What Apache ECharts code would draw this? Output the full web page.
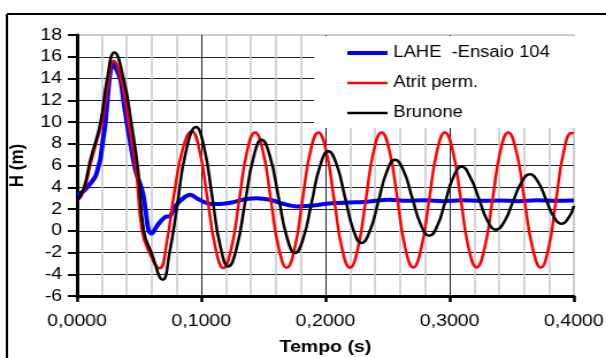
<!DOCTYPE html>
<html>
<head>
<meta charset="utf-8">
<script src="https://cdn.jsdelivr.net/npm/echarts@6/dist/echarts.min.js"></script>
<style>
  html, body { margin: 0; padding: 0; background: #fff; overflow: hidden; }
  /* drawn at a narrower width, then widened to fill the page */
  #chart { width: 545px; height: 358px; transform: scaleX(1.15); transform-origin: 0 0; }
</style>
</head>
<body>
<div id="chart"></div>
<script>
// Tempo (s) / H (m) pairs for each series
const lahe = [
  [0, 3.3], [0.0035, 3.5], [0.0067, 3.8], [0.0105, 4.3], [0.0148, 5.0], [0.0172, 5.9],
  [0.0188, 6.6], [0.0208, 8.3], [0.0228, 9.9], [0.026, 13.9], [0.0287, 15.4], [0.031, 15.0],
  [0.0349, 13.9], [0.0375, 11.9], [0.0402, 9.9], [0.047, 5.6], [0.0529, 3.5], [0.0555, 1.6],
  [0.0577, 0.0], [0.0601, -0.25], [0.0635, 0.3], [0.0668, 0.8], [0.0708, 1.26], [0.0749, 1.35],
  [0.0762, 1.6], [0.0802, 2.4], [0.0856, 3.0], [0.091, 3.3], [0.0977, 2.9], [0.1044, 2.55],
  [0.111, 2.45], [0.1178, 2.48], [0.1245, 2.6], [0.1312, 2.79], [0.1378, 2.95], [0.1446, 3.0],
  [0.1553, 2.85], [0.166, 2.48], [0.1768, 2.24], [0.1875, 2.3], [0.201, 2.48], [0.209, 2.55],
  [0.22, 2.6], [0.2304, 2.64], [0.2519, 2.85], [0.265, 2.75], [0.28, 2.8], [0.295, 2.72],
  [0.31, 2.8], [0.325, 2.75], [0.34, 2.78], [0.355, 2.72], [0.37, 2.8], [0.385, 2.76], [0.4, 2.78]
];

const atrit = [
  [0, 2.7], [0.0055, 3.7], [0.011, 6.2], [0.0155, 8.1], [0.02, 9.9], [0.025, 13.6], [0.0295, 15.6],
  [0.0357, 13.9], [0.0416, 9.9], [0.0475, 5.6], [0.0523, 0.0], [0.0582, -2.0], [0.0663, -3.45],
  [0.0723, -1.0], [0.0783, 3.5], [0.0853, 7.6], [0.0923, 9.13],
  [0.0987, 7.3], [0.1051, 2.85], [0.1115, -1.6], [0.1178, -3.43],
  [0.1242, -1.6], [0.1306, 2.85], [0.1369, 7.3], [0.1433, 9.04],
  [0.1497, 7.3], [0.156, 2.85], [0.1624, -1.6], [0.1688, -3.4],
  [0.1752, -1.6], [0.1815, 2.85], [0.1879, 7.3], [0.1942, 9.04],
  [0.2006, 7.3], [0.207, 2.85], [0.2133, -1.6], [0.2197, -3.4],
  [0.2261, -1.6], [0.2325, 2.85], [0.2388, 7.3], [0.2452, 9.04],
  [0.2516, 7.3], [0.258, 2.85], [0.2643, -1.6], [0.2707, -3.37],
  [0.2771, -1.6], [0.2835, 2.85], [0.2898, 7.3], [0.2962, 9.04],
  [0.3026, 7.3], [0.309, 2.85], [0.3153, -1.6], [0.3217, -3.37],
  [0.3281, -1.6], [0.3345, 2.85], [0.3408, 7.3], [0.3471, 9.04],
  [0.3537, 7.3], [0.3602, 2.85], [0.3668, -1.6], [0.3734, -3.37],
  [0.3796, -1.6], [0.3857, 2.85], [0.3919, 7.3], [0.398, 9.0], [0.4, 8.95]
];

const brunone = [
  [0, 2.7], [0.0054, 3.9], [0.0107, 6.5], [0.0188, 9.9], [0.0241, 13.9], [0.03, 16.4],
  [0.0376, 13.9], [0.0437, 9.9], [0.0491, 5.6], [0.0537, 0.0], [0.0598, -2.0], [0.069, -4.5],
  [0.0745, -2.0], [0.0805, 2.2], [0.0875, 7.2], [0.0958, 9.53],
  [0.1023, 7.65], [0.1088, 3.13], [0.1153, -1.4], [0.1218, -3.28],
  [0.1285, -1.57], [0.1352, 2.55], [0.1419, 6.67], [0.1486, 8.37],
  [0.1553, 6.84], [0.1621, 3.16], [0.1688, -0.52], [0.1755, -2.05],
  [0.1822, -0.68], [0.1889, 2.63], [0.1956, 5.94], [0.2023, 7.3],
  [0.209, 6.07], [0.2157, 3.09], [0.2224, 0.11], [0.2291, -1.13],
  [0.2358, 0.0], [0.2426, 2.7], [0.2493, 5.41], [0.256, 6.53],
  [0.2629, 5.51], [0.2698, 3.04], [0.2767, 0.57], [0.2836, -0.46],
  [0.2901, 0.47], [0.2966, 2.72], [0.3031, 4.97], [0.3096, 5.9],
  [0.3165, 4.95], [0.3234, 3.0], [0.3303, 0.95], [0.3372, 0.09],
  [0.3441, 0.85], [0.3509, 2.65], [0.3578, 4.45], [0.3646, 5.2],
  [0.371, 4.53], [0.3774, 2.92], [0.3837, 1.31], [0.3901, 0.64],
  [0.3966, 1.35], [0.4, 2.3]
];

const seriesNames = ['LAHE  -Ensaio 104', 'Atrit perm.', 'Brunone'];
const seriesColors = ['#0000ff', '#ff0000', '#000000'];
const seriesWidths = [4, 2.5, 2.5];
const xTickLabels = ['0,0000', '0,1000', '0,2000', '0,3000', '0,4000'];
const xName = 'Tempo (s)';
const yName = 'H (m)';

const font = 'Liberation Sans, Arial, sans-serif';
const chart = echarts.init(document.getElementById('chart'), null, { renderer: 'canvas' });

chart.setOption({
  animation: false,
  backgroundColor: '#fff',
  textStyle: { fontFamily: font, color: '#000' },
  graphic: [
    // outer frame: left edge and top edge
    {
      type: 'line', silent: true, z: 0,
      shape: { x1: 6, y1: 14, x2: 6, y2: 400 },
      style: { stroke: '#000', lineWidth: 2 }
    },
    {
      type: 'line', silent: true, z: 0,
      shape: { x1: 6, y1: 14, x2: 540, y2: 14 },
      style: { stroke: '#000', lineWidth: 2 }
    }
  ],
  grid: {
    left: 67, right: 46, top: 35, bottom: 62,
    outerBoundsMode: 'none',
    containLabel: false,
    show: true, borderColor: '#9a9a9a', borderWidth: 1
  },
  legend: {
    orient: 'vertical',
    left: 273, top: 36,
    padding: [9, 22, 7, 27],
    backgroundColor: '#fff',
    itemWidth: 35, itemHeight: 14, itemGap: 14,
    itemStyle: { opacity: 0 },
    textStyle: { fontFamily: font, fontSize: 16, color: '#000' },
    data: seriesNames.map((n, i) => ({
      name: n,
      lineStyle: { color: seriesColors[i], width: seriesWidths[i] }
    }))
  },
  xAxis: {
    type: 'value',
    min: 0, max: 0.4, interval: 0.1,
    name: xName, nameLocation: 'middle', nameGap: 43,
    nameTextStyle: { fontFamily: font, fontSize: 17, fontWeight: 'bold', color: '#000' },
    axisLine: { show: true, onZero: false, lineStyle: { color: '#000', width: 3 } },
    axisTick: { show: true, inside: false, length: 6, lineStyle: { color: '#000', width: 2.5 } },
    axisLabel: {
      margin: 17, fontSize: 17, color: '#000', fontFamily: font,
      formatter: v => xTickLabels[Math.round(v / 0.1)]
    },
    splitLine: { show: true, showMinLine: false, showMaxLine: false, lineStyle: { color: '#222', width: 1 } },
    minorTick: { show: false, splitNumber: 5 },
    minorSplitLine: { show: true, lineStyle: { color: '#c8c8c8', width: 1.5 } }
  },
  yAxis: {
    type: 'value',
    min: -6, max: 18, interval: 2,
    name: yName, nameLocation: 'middle', nameGap: 32, nameRotate: 90,
    nameTextStyle: { fontFamily: font, fontSize: 17, fontWeight: 'bold', color: '#000' },
    axisLine: { show: true, onZero: false, lineStyle: { color: '#000', width: 3 } },
    axisTick: { show: true, inside: false, length: 8, lineStyle: { color: '#000', width: 2 } },
    axisLabel: { margin: 13, fontSize: 17, color: '#000', fontFamily: font },
    splitLine: { show: true, showMinLine: false, showMaxLine: false, lineStyle: { color: '#222', width: 1 } }
  },
  series: [
    {
      name: seriesNames[0], type: 'line', data: lahe, smooth: 0.3, showSymbol: false,
      symbol: 'none', color: seriesColors[0], lineStyle: { color: seriesColors[0], width: seriesWidths[0] }, z: 3
    },
    {
      name: seriesNames[1], type: 'line', data: atrit, smooth: true, showSymbol: false,
      symbol: 'none', color: seriesColors[1], lineStyle: { color: seriesColors[1], width: seriesWidths[1] }, z: 4
    },
    {
      name: seriesNames[2], type: 'line', data: brunone, smooth: true, showSymbol: false,
      symbol: 'none', color: seriesColors[2], lineStyle: { color: seriesColors[2], width: seriesWidths[2] }, z: 5
    }
  ]
});
</script>
</body>
</html>
